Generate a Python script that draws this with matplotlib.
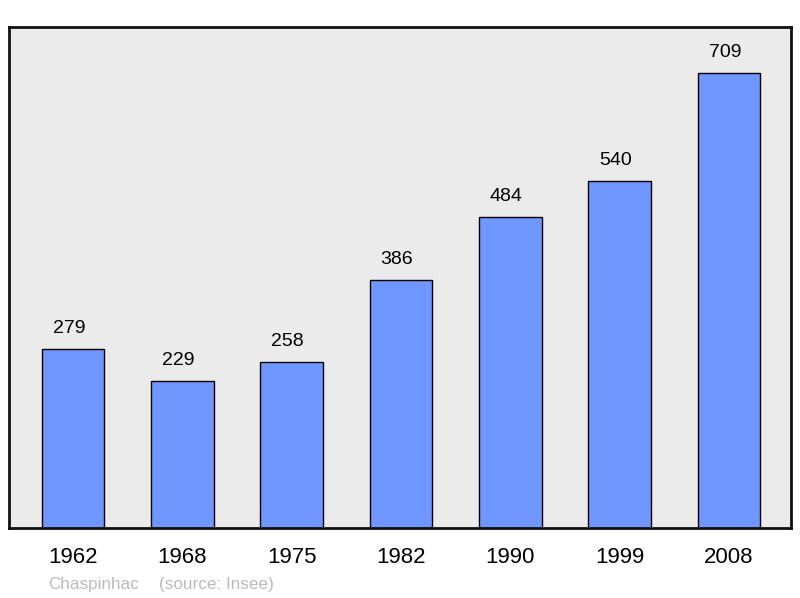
import matplotlib.pyplot as plt

plt.rcParams['font.family'] = ['Liberation Sans', 'DejaVu Sans']

years = ['1962', '1968', '1975', '1982', '1990', '1999', '2008']
population = [279, 229, 258, 386, 484, 540, 709]

fig = plt.figure(figsize=(8, 5.98), dpi=100)
ax = fig.add_axes([9 / 800, 1 - 528 / 598, 782 / 800, 501 / 598])
ax.set_facecolor('#ebebeb')

x = range(len(years))
ax.bar(x, population, width=0.572, color='#7096ff', edgecolor='black', linewidth=1.0, zorder=2)
for i, v in zip(x, population):
    ax.annotate(str(v), (i, v), xytext=(-3, 8.5), textcoords='offset points',
                ha='center', va='bottom', fontsize=14)

ax.set_xlim(-0.585, 6.567)
ax.set_ylim(0, 780)
ax.set_xticks(list(x))
ax.set_xticklabels(years, fontsize=16)
ax.tick_params(axis='x', length=0, pad=14)
ax.set_yticks([])
for s in ax.spines.values():
    s.set_linewidth(2)
    s.set_color('#111111')

fig.text(48 / 800, 1 - 584 / 598, 'Chaspinhac', color='#bbbbbb', fontsize=12.3, va='center')
fig.text(159 / 800, 1 - 584 / 598, '(source: Insee)', color='#bbbbbb', fontsize=12.3, va='center')

fig.savefig('out.png', dpi=100)
